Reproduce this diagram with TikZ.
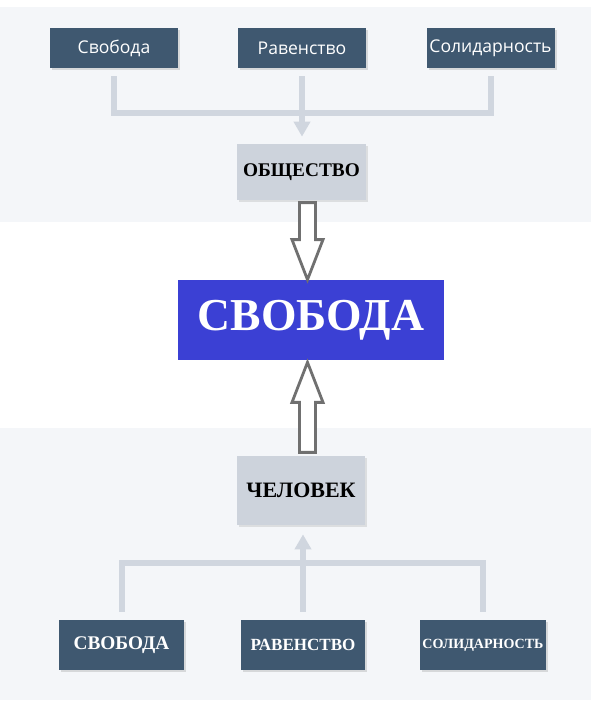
\documentclass[tikz,border=0pt]{standalone}
\usepackage{fontspec}
\setmainfont{Liberation Serif}
\newfontfamily\boxsans{Open Sans}
\usepackage{xcolor}
\usepackage{tikz}
\usetikzlibrary{arrows.meta,positioning,calc,shadows}
\definecolor{panel}{HTML}{F4F6F9}
\definecolor{slate}{HTML}{3F5870}
\definecolor{linkgray}{HTML}{D0D6DF}
\definecolor{palebox}{HTML}{CDD3DC}
\definecolor{mainblue}{HTML}{3B40D4}
\definecolor{arrowgray}{HTML}{707070}

\begin{document}
\begin{tikzpicture}[
    darkbox/.style={rectangle, fill=slate, text=white, minimum width=2.56cm, minimum height=0.8cm, inner sep=1pt, text centered,
        drop shadow={shadow xshift=0.04cm, shadow yshift=-0.04cm, opacity=0.25}},
    pale/.style={rectangle, fill=palebox, text=black, minimum width=2.57cm, font=\bfseries, text centered,
        drop shadow={shadow xshift=0.04cm, shadow yshift=-0.04cm, opacity=0.2}},
    link/.style={draw=linkgray, line width=0.12cm},
    linkarrow/.style={link, -{Triangle[width=0.32cm,length=0.3cm]}},
    hollow/.style={draw=arrowgray, line width=1.6pt, fill=white, line join=miter}
]
    \useasboundingbox[fill=white] (0,0) rectangle (11.82,14.34);

    % Panels
    \fill[panel] (0,9.90) rectangle (11.82,14.20);
    \fill[panel] (0,0.34) rectangle (11.82,5.78);

    % Upper boxes
    \node[darkbox, font=\boxsans\fontsize{10}{12}\selectfont] (free1) at (2.28,13.38) {Свобода};
    \node[darkbox, font=\boxsans\fontsize{10}{12}\selectfont] (equal1) at (6.04,13.38) {Равенство};
    \node[darkbox, font=\boxsans\fontsize{10}{12}\selectfont] (solid1) at (9.81,13.38) {Солидарность};
    \node[pale, minimum height=1.12cm, font=\fontsize{11}{13}\selectfont\bfseries] (society) at (6.03,10.90) {ОБЩЕСТВО};

    % Centre
    \node[rectangle, fill=mainblue, text=white, minimum width=5.32cm, minimum height=1.6cm,
        font=\fontsize{26}{29}\selectfont\bfseries] (main) at (6.22,7.94) {СВОБОДА};

    % Lower boxes
    \node[pale, minimum height=1.38cm, font=\fontsize{12.5}{14}\selectfont\bfseries] (person) at (6.02,4.53) {ЧЕЛОВЕК};
    \node[darkbox, minimum width=2.5cm, minimum height=1.0cm, font=\fontsize{11}{13}\selectfont\bfseries] (free2) at (2.43,1.44) {СВОБОДА};
    \node[darkbox, minimum width=2.48cm, minimum height=1.0cm, font=\fontsize{9.7}{12}\selectfont\bfseries] (equal2) at (6.06,1.44) {РАВЕНСТВО};
    \node[darkbox, minimum width=2.52cm, minimum height=1.0cm, font=\fontsize{8}{10}\selectfont\bfseries] (solid2) at (9.66,1.44) {СОЛИДАРНОСТЬ};

    % Upper tree
    \coordinate[below=0.9cm of equal1.south] (jtop);
    \draw[link] ([yshift=-0.16cm]free1.south) |- (jtop);
    \draw[link] ([yshift=-0.16cm]solid1.south) |- (jtop);
    \draw[linkarrow, shorten >=0.14cm] ([yshift=-0.16cm]equal1.south) -- (equal1.south |- society.north);

    % Lower tree
    \coordinate[above=1.14cm of equal2.north] (jbot);
    \draw[link] ([yshift=0.16cm]free2.north) |- (jbot);
    \draw[link] ([yshift=0.16cm]solid2.north) |- (jbot);
    \draw[linkarrow, shorten >=0.18cm] ([yshift=0.16cm]equal2.north) -- (equal2.north |- person.south);

    % Hollow arrows
    \draw[hollow] ([xshift=-0.07cm]main.north) -- ++(-0.31,0.8) -- ++(0.15,0) -- ++(0,0.74)
        -- ++(0.32,0) -- ++(0,-0.74) -- ++(0.15,0) -- cycle;
    \draw[hollow] ([xshift=-0.07cm,yshift=-0.04cm]main.south) -- ++(-0.31,-0.8) -- ++(0.15,0) -- ++(0,-1.0)
        -- ++(0.32,0) -- ++(0,1.0) -- ++(0.15,0) -- cycle;
\end{tikzpicture}
\end{document}
